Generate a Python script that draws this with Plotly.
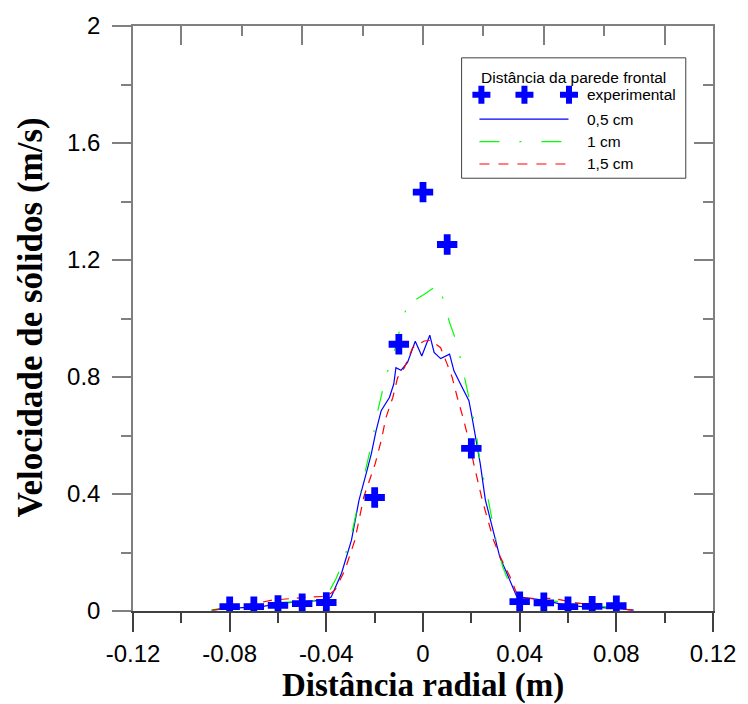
import plotly.graph_objects as go

# ---- data -------------------------------------------------------------
# experimental solids velocity (m/s) vs radial distance (m)
exp_x = [-0.08, -0.07, -0.06, -0.05, -0.04, -0.02, -0.01, 0.0, 0.01, 0.02,
         0.04, 0.05, 0.06, 0.07, 0.08]
exp_y = [0.015, 0.015, 0.019, 0.025, 0.029, 0.388, 0.912, 1.432, 1.253, 0.556,
         0.032, 0.028, 0.015, 0.016, 0.018]

# simulated profile, 0.5 cm from the front wall
sim05_x = [-0.0875, -0.080, -0.0665, -0.060, -0.050, -0.0405, -0.038, -0.0337,
           -0.0296, -0.0265, -0.023, -0.0214, -0.0194, -0.0173, -0.0139, -0.0121,
           -0.0112, -0.0091, -0.0064, -0.0032, -0.0005, 0.0028, 0.0046, 0.0073,
           0.011, 0.0128, 0.0155, 0.019, 0.0203, 0.0224, 0.0237, 0.0258, 0.0298,
           0.0318, 0.0347, 0.0388, 0.0497, 0.059, 0.066, 0.0798, 0.0872]
sim05_y = [0.003, 0.009, 0.015, 0.026, 0.032, 0.037, 0.048, 0.129,
           0.242, 0.378, 0.486, 0.537, 0.617, 0.685, 0.730, 0.776,
           0.832, 0.823, 0.850, 0.922, 0.872, 0.943, 0.884, 0.863,
           0.878, 0.821, 0.776, 0.719, 0.662, 0.560, 0.503, 0.380, 0.242,
           0.184, 0.129, 0.049, 0.037, 0.020, 0.015, 0.009, 0.003]

# simulated profile, 1 cm from the front wall
sim10_x = [-0.0875, -0.080, -0.0638, -0.046, -0.040, -0.036, -0.033, -0.0296,
           -0.026, -0.0228, -0.0207, -0.0187, -0.0173, -0.0153, -0.0121, -0.0105,
           -0.008, -0.0053, -0.003, 0.0012, 0.0066, 0.0094, 0.011, 0.0142,
           0.0169, 0.0196, 0.0217, 0.0237, 0.027, 0.030, 0.033, 0.036, 0.039,
           0.043, 0.058, 0.070, 0.080, 0.0872]
sim10_y = [0.003, 0.015, 0.028, 0.034, 0.049, 0.110, 0.170, 0.260,
           0.400, 0.514, 0.594, 0.685, 0.730, 0.804, 0.878, 0.935,
           1.008, 1.071, 1.065, 1.086, 1.117, 1.037, 0.986, 0.912,
           0.810, 0.708, 0.628, 0.503, 0.380, 0.250, 0.150, 0.090, 0.050,
           0.037, 0.032, 0.020, 0.009, 0.003]

# simulated profile, 1.5 cm from the front wall
sim15_x = [-0.087, -0.0775, -0.069, -0.0625, -0.054, -0.047, -0.040, -0.039,
           -0.0364, -0.0323, -0.0282, -0.0245, -0.0198, -0.0173, -0.0153, -0.0125,
           -0.0105, -0.0077, -0.0043, 0.0005, 0.0032, 0.0073, 0.010, 0.0121,
           0.0142, 0.0169, 0.0196, 0.021, 0.0245, 0.0292, 0.032, 0.036, 0.0388,
           0.043, 0.054, 0.0605, 0.070, 0.0798, 0.0866]
sim15_y = [0.003, 0.015, 0.026, 0.037, 0.043, 0.048, 0.050, 0.055,
           0.072, 0.140, 0.242, 0.390, 0.503, 0.583, 0.662, 0.730,
           0.798, 0.832, 0.900, 0.923, 0.925, 0.900, 0.844, 0.798,
           0.730, 0.651, 0.560, 0.503, 0.380, 0.242, 0.185, 0.117, 0.060,
           0.043, 0.043, 0.032, 0.020, 0.009, 0.003]

# axis ticks
x_tick_vals = [-0.12, -0.08, -0.04, 0.0, 0.04, 0.08, 0.12]
x_tick_text = ["-0.12", "-0.08", "-0.04", "0", "0.04", "0.08", "0.12"]
x_minor_vals = [-0.10, -0.06, -0.02, 0.02, 0.06, 0.10]
y_tick_vals = [0.0, 0.4, 0.8, 1.2, 1.6, 2.0]
y_tick_text = ["0", "0.4", "0.8", "1.2", "1.6", "2"]
y_minor_vals = [0.2, 0.6, 1.0, 1.4, 1.8]

legend_title = "Distância da parede frontal"
series_names = ["experimental", "0,5 cm", "1 cm", "1,5 cm"]
x_title = "Distância radial (m)"
y_title = "Velocidade de sólidos (m/s)"

# ---- styling ----------------------------------------------------------
W, H = 748, 704
PL, PR, PT, PB = 133, 719, 23, 611          # plot area edges in pixels
SANS = "Arial, Liberation Sans, sans-serif"
SERIF = "Times New Roman, Liberation Serif, serif"
BLUE, GREEN, RED = "#0000FF", "#00FF00", "#FF0000"
FRAME = "#808080"
AXIS_DARK = "#404040"
GREEN_DASH = "20px,20px,2px,20px"
RED_DASH = "9px,8px"


def paper_x(px):
    return (px - PL) / (PR - PL)


def paper_y(py):
    return (PB - py) / (PB - PT)


fig = go.Figure()

fig.add_trace(go.Scatter(x=sim05_x, y=sim05_y, mode="lines",
                         line=dict(color=BLUE, width=1.2), showlegend=False))
fig.add_trace(go.Scatter(x=sim10_x, y=sim10_y, mode="lines",
                         line=dict(color=GREEN, width=1.2, dash=GREEN_DASH),
                         showlegend=False))
fig.add_trace(go.Scatter(x=sim15_x, y=sim15_y, mode="lines",
                         line=dict(color=RED, width=1.2, dash=RED_DASH),
                         showlegend=False))
fig.add_trace(go.Scatter(x=exp_x, y=exp_y, mode="markers",
                         marker=dict(symbol="cross", size=17, color=BLUE,
                                     line=dict(width=0)),
                         showlegend=False))

# mirrored frame (top / right) with inward ticks
fig.add_trace(go.Scatter(x=[None], y=[None], xaxis="x2", yaxis="y2",
                         showlegend=False, hoverinfo="skip"))

# legend key, laid out on a pixel-scaled overlay
LX0, LX1 = 483, 573
LEG_TEXT_X = 590
rows_y = [92, 116.7, 139.3, 161.7]
fig.add_trace(go.Scatter(x=[485, 528.5, 573.5], y=[rows_y[0]] * 3, mode="markers",
                         marker=dict(symbol="cross", size=15, color=BLUE,
                                     line=dict(width=0)),
                         xaxis="x3", yaxis="y3", showlegend=False, hoverinfo="skip"))
for yy, col, dash in [(rows_y[1], BLUE, "solid"), (rows_y[2], GREEN, GREEN_DASH),
                      (rows_y[3], RED, "10px,9px")]:
    fig.add_trace(go.Scatter(x=[LX0, LX1], y=[yy, yy], mode="lines",
                             line=dict(color=col, width=1.2, dash=dash),
                             xaxis="x3", yaxis="y3", showlegend=False,
                             hoverinfo="skip"))

legend_font = dict(family=SANS, size=15.5, color="black")
annotations = [
    dict(text=legend_title, x=578, y=75, xref="x3", yref="y3", showarrow=False,
         xanchor="center", yanchor="middle", font=legend_font),
]
for name, yy in zip(series_names, rows_y):
    annotations.append(dict(text=name, x=LEG_TEXT_X, y=yy, xref="x3", yref="y3",
                            showarrow=False, xanchor="left", yanchor="middle",
                            font=legend_font))

# axis titles
annotations.append(dict(text=x_title, x=paper_x(426), y=paper_y(686), xref="paper",
                        yref="paper", showarrow=False, xanchor="center", yanchor="middle",
                        font=dict(family=SERIF, size=33, color="black", weight="bold")))
annotations.append(dict(text=y_title, x=paper_x(29), y=paper_y(316), xref="paper",
                        yref="paper", showarrow=False, xanchor="center", yanchor="middle",
                        textangle=-90,
                        font=dict(family=SERIF, size=35, color="black", weight="bold")))

shapes = [dict(type="rect", xref="x3", yref="y3", x0=465, x1=691.5, y0=55, y1=176,
               line=dict(color=AXIS_DARK, width=1), fillcolor="white", layer="below")]

tick_font = dict(family=SANS, size=24, color="black")

fig.update_layout(
    width=W, height=H,
    margin=dict(l=PL, r=W - PR, t=PT, b=H - PB, pad=0),
    paper_bgcolor="white", plot_bgcolor="white",
    showlegend=False,
    xaxis=dict(range=[-0.12, 0.12], showgrid=False, zeroline=False,
               showline=True, linecolor=AXIS_DARK, linewidth=1.5,
               ticks="outside", ticklen=19, tickwidth=1.5, tickcolor=AXIS_DARK,
               tickmode="array", tickvals=x_tick_vals, ticktext=x_tick_text,
               minor=dict(tickmode="array", tickvals=x_minor_vals, ticks="outside",
                          ticklen=10, tickwidth=1.5, tickcolor=AXIS_DARK, showgrid=False),
               tickfont=tick_font, ticklabelstandoff=1, anchor="y"),
    yaxis=dict(range=[0, 2], showgrid=False, zeroline=False,
               showline=True, linecolor=FRAME, linewidth=1.5,
               ticks="outside", ticklen=19, tickwidth=1.5, tickcolor=FRAME,
               tickmode="array", tickvals=y_tick_vals, ticktext=y_tick_text,
               minor=dict(tickmode="array", tickvals=y_minor_vals, ticks="outside",
                          ticklen=10, tickwidth=1.5, tickcolor=FRAME, showgrid=False),
               tickfont=tick_font, ticklabelstandoff=7, anchor="x"),
    xaxis2=dict(range=[-0.12, 0.12], overlaying="x", side="top", anchor="y2",
                showgrid=False, zeroline=False, showticklabels=False,
                showline=True, linecolor=FRAME, linewidth=1.5,
                ticks="inside", ticklen=19, tickwidth=1.5, tickcolor=FRAME,
                tickmode="linear", tick0=0, dtick=0.05,
                minor=dict(ticks="inside", ticklen=10, tickwidth=1.5, tickcolor=FRAME,
                           dtick=0.025, tick0=0, showgrid=False)),
    yaxis2=dict(range=[0, 2], overlaying="y", side="right", anchor="x2",
                showgrid=False, zeroline=False, showticklabels=False,
                showline=True, linecolor=FRAME, linewidth=1.5,
                ticks="inside", ticklen=19, tickwidth=1.5, tickcolor=FRAME,
                tickmode="linear", tick0=0, dtick=0.4,
                minor=dict(ticks="inside", ticklen=10, tickwidth=1.5, tickcolor=FRAME,
                           dtick=0.2, tick0=0, showgrid=False)),
    xaxis3=dict(range=[PL, PR], overlaying="x", anchor="y3", visible=False),
    yaxis3=dict(range=[PB, PT], overlaying="y", anchor="x3", visible=False),
    annotations=annotations,
    shapes=shapes,
)

fig.write_html("out.html")
